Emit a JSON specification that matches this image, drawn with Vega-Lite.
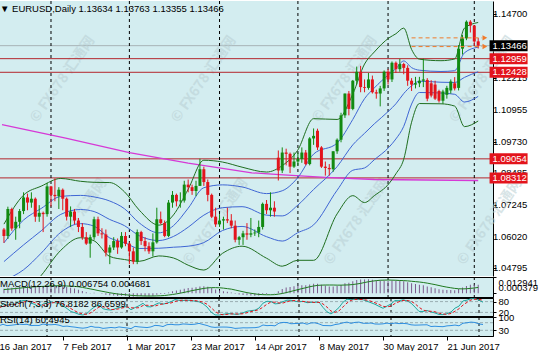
{
"$schema": "https://vega.github.io/schema/vega-lite/v6.json",
"padding": {"left": -4, "top": 0, "right": 0, "bottom": 0},
"background": "#ffffff",
"spacing": 1,
"bounds": "flush",
"config": {
 "view": {"fill": "#d3edf0", "stroke": "#000000", "strokeWidth": 1},
 "font": "Liberation Sans",
 "axis": {"labelFont": "Liberation Sans", "labelFontSize": 9.5, "labelColor": "#000000", "tickColor": "#000000", "domainColor": "#000000", "grid": false, "title": null, "tickSize": 3, "labelPadding": 2, "labelOverlap": false},
 "title": {"font": "Liberation Sans", "fontSize": 9.5, "fontWeight": "normal", "color": "#000000", "anchor": "start", "frame": "group"}
},
"datasets": {
 "bars": [
{"i":0,"o":1.0630,"h":1.0636,"l":1.0578,"c":1.0605,"m":0.0036,"s":0.0030,"k":45,"d":45,"r":54.3},
{"i":1,"o":1.0605,"h":1.0719,"l":1.0593,"c":1.0710,"m":0.0045,"s":0.0032,"k":68.7,"d":55,"r":61.5},
{"i":2,"o":1.0710,"h":1.0715,"l":1.0625,"c":1.0634,"m":0.0045,"s":0.0035,"k":59.8,"d":57.8,"r":54.7},
{"i":3,"o":1.0634,"h":1.0680,"l":1.0590,"c":1.0660,"m":0.0047,"s":0.0038,"k":65.9,"d":64.8,"r":56.5},
{"i":4,"o":1.0660,"h":1.0710,"l":1.0635,"c":1.0702,"m":0.0051,"s":0.0041,"k":62.6,"d":62.8,"r":59.3},
{"i":5,"o":1.0702,"h":1.0775,"l":1.0690,"c":1.0755,"m":0.0058,"s":0.0044,"k":80,"d":69.5,"r":62.5},
{"i":6,"o":1.0755,"h":1.0770,"l":1.0705,"c":1.0735,"m":0.0061,"s":0.0047,"k":85.6,"d":76.1,"r":60.6},
{"i":7,"o":1.0735,"h":1.0775,"l":1.0715,"c":1.0750,"m":0.0064,"s":0.0050,"k":85.3,"d":83.6,"r":61.5},
{"i":8,"o":1.0750,"h":1.0755,"l":1.0660,"c":1.0680,"m":0.0060,"s":0.0052,"k":71.8,"d":80.9,"r":54.8},
{"i":9,"o":1.0680,"h":1.0725,"l":1.0660,"c":1.0695,"m":0.0058,"s":0.0054,"k":64,"d":73.7,"r":55.9},
{"i":10,"o":1.0695,"h":1.0700,"l":1.0620,"c":1.0690,"m":0.0054,"s":0.0055,"k":50.5,"d":62.1,"r":55.4},
{"i":11,"o":1.0690,"h":1.0812,"l":1.0680,"c":1.0798,"m":0.0060,"s":0.0057,"k":66.4,"d":60.3,"r":63},
{"i":12,"o":1.0798,"h":1.0800,"l":1.0720,"c":1.0765,"m":0.0061,"s":0.0059,"k":72.9,"d":63.3,"r":59.6},
{"i":13,"o":1.0765,"h":1.0829,"l":1.0740,"c":1.0760,"m":0.0061,"s":0.0060,"k":78.1,"d":72.5,"r":59.1},
{"i":14,"o":1.0760,"h":1.0795,"l":1.0710,"c":1.0785,"m":0.0062,"s":0.0060,"k":73.8,"d":74.9,"r":60.9},
{"i":15,"o":1.0785,"h":1.0790,"l":1.0705,"c":1.0750,"m":0.0059,"s":0.0060,"k":69.4,"d":73.8,"r":57.1},
{"i":16,"o":1.0750,"h":1.0755,"l":1.0665,"c":1.0680,"m":0.0051,"s":0.0058,"k":56.6,"d":66.6,"r":50.4},
{"i":17,"o":1.0680,"h":1.0720,"l":1.0640,"c":1.0700,"m":0.0045,"s":0.0057,"k":41.2,"d":55.7,"r":52.1},
{"i":18,"o":1.0700,"h":1.0710,"l":1.0650,"c":1.0665,"m":0.0038,"s":0.0055,"k":24.7,"d":40.8,"r":48.9},
{"i":19,"o":1.0665,"h":1.0675,"l":1.0620,"c":1.0640,"m":0.0029,"s":0.0052,"k":17.9,"d":27.9,"r":46.6},
{"i":20,"o":1.0640,"h":1.0655,"l":1.0590,"c":1.0600,"m":0.0019,"s":0.0047,"k":9.1,"d":17.2,"r":43.2},
{"i":21,"o":1.0600,"h":1.0620,"l":1.0570,"c":1.0575,"m":0.0009,"s":0.0041,"k":5.5,"d":10.8,"r":41.2},
{"i":22,"o":1.0575,"h":1.0610,"l":1.0520,"c":1.0600,"m":0.0003,"s":0.0035,"k":14.4,"d":9.7,"r":44},
{"i":23,"o":1.0600,"h":1.0680,"l":1.0590,"c":1.0670,"m":0.0004,"s":0.0029,"k":35.9,"d":18.6,"r":51.1},
{"i":24,"o":1.0670,"h":1.0680,"l":1.0605,"c":1.0615,"m":0.0000,"s":0.0022,"k":52,"d":34.1,"r":46.2},
{"i":25,"o":1.0615,"h":1.0635,"l":1.0595,"c":1.0611,"m":-0.0003,"s":0.0016,"k":61.1,"d":49.7,"r":45.8},
{"i":26,"o":1.0611,"h":1.0630,"l":1.0525,"c":1.0540,"m":-0.0011,"s":0.0010,"k":40.4,"d":51.2,"r":40.1},
{"i":27,"o":1.0540,"h":1.0570,"l":1.0495,"c":1.0560,"m":-0.0016,"s":0.0004,"k":34.9,"d":45.5,"r":42.3},
{"i":28,"o":1.0560,"h":1.0600,"l":1.0550,"c":1.0585,"m":-0.0018,"s":-0.0001,"k":33,"d":36.1,"r":45},
{"i":29,"o":1.0585,"h":1.0595,"l":1.0535,"c":1.0560,"m":-0.0021,"s":-0.0006,"k":39.6,"d":35.8,"r":42.8},
{"i":30,"o":1.0560,"h":1.0620,"l":1.0555,"c":1.0605,"m":-0.0019,"s":-0.0009,"k":47.7,"d":40.1,"r":47.7},
{"i":31,"o":1.0605,"h":1.0620,"l":1.0565,"c":1.0575,"m":-0.0020,"s":-0.0012,"k":50,"d":45.8,"r":44.9},
{"i":32,"o":1.0575,"h":1.0580,"l":1.0495,"c":1.0545,"m":-0.0023,"s":-0.0015,"k":52.2,"d":50,"r":42.3},
{"i":33,"o":1.0545,"h":1.0560,"l":1.0495,"c":1.0505,"m":-0.0028,"s":-0.0018,"k":35,"d":45.7,"r":39},
{"i":34,"o":1.0505,"h":1.0630,"l":1.0495,"c":1.0620,"m":-0.0023,"s":-0.0020,"k":46.8,"d":44.7,"r":50.8},
{"i":35,"o":1.0620,"h":1.0625,"l":1.0570,"c":1.0585,"m":-0.0021,"s":-0.0021,"k":57,"d":46.3,"r":47.8},
{"i":36,"o":1.0585,"h":1.0600,"l":1.0545,"c":1.0565,"m":-0.0021,"s":-0.0022,"k":70.4,"d":58.1,"r":46.1},
{"i":37,"o":1.0565,"h":1.0580,"l":1.0535,"c":1.0545,"m":-0.0023,"s":-0.0022,"k":51.9,"d":59.8,"r":44.4},
{"i":38,"o":1.0545,"h":1.0615,"l":1.0525,"c":1.0580,"m":-0.0021,"s":-0.0022,"k":50.6,"d":57.6,"r":48},
{"i":39,"o":1.0580,"h":1.0715,"l":1.0575,"c":1.0670,"m":-0.0012,"s":-0.0021,"k":63.3,"d":55.3,"r":55.9},
{"i":40,"o":1.0670,"h":1.0700,"l":1.0650,"c":1.0655,"m":-0.0006,"s":-0.0020,"k":73,"d":62.3,"r":54.4},
{"i":41,"o":1.0655,"h":1.0665,"l":1.0600,"c":1.0605,"m":-0.0005,"s":-0.0018,"k":65.9,"d":67.4,"r":49.7},
{"i":42,"o":1.0605,"h":1.0745,"l":1.0600,"c":1.0735,"m":0.0006,"s":-0.0014,"k":71.4,"d":70.1,"r":59.5},
{"i":43,"o":1.0735,"h":1.0780,"l":1.0715,"c":1.0765,"m":0.0017,"s":-0.0010,"k":79.7,"d":72.3,"r":61.4},
{"i":44,"o":1.0765,"h":1.0770,"l":1.0720,"c":1.0740,"m":0.0023,"s":-0.0005,"k":91.1,"d":80.7,"r":59},
{"i":45,"o":1.0740,"h":1.0775,"l":1.0715,"c":1.0743,"m":0.0028,"s":0.0001,"k":87.1,"d":86,"r":59.2},
{"i":46,"o":1.0743,"h":1.0820,"l":1.0735,"c":1.0805,"m":0.0037,"s":0.0007,"k":86.5,"d":88.2,"r":63.4},
{"i":47,"o":1.0805,"h":1.0825,"l":1.0775,"c":1.0795,"m":0.0042,"s":0.0014,"k":87.4,"d":87,"r":62.2},
{"i":48,"o":1.0795,"h":1.0805,"l":1.0765,"c":1.0780,"m":0.0045,"s":0.0021,"k":86.6,"d":86.8,"r":60.5},
{"i":49,"o":1.0780,"h":1.0820,"l":1.0760,"c":1.0800,"m":0.0048,"s":0.0027,"k":82.1,"d":85.4,"r":62.1},
{"i":50,"o":1.0800,"h":1.0906,"l":1.0800,"c":1.0865,"m":0.0055,"s":0.0033,"k":78.9,"d":82.5,"r":66.5},
{"i":51,"o":1.0865,"h":1.0875,"l":1.0800,"c":1.0815,"m":0.0056,"s":0.0039,"k":68.1,"d":76.4,"r":60.6},
{"i":52,"o":1.0815,"h":1.0825,"l":1.0740,"c":1.0765,"m":0.0052,"s":0.0043,"k":50.2,"d":65.7,"r":55.3},
{"i":53,"o":1.0765,"h":1.0770,"l":1.0675,"c":1.0680,"m":0.0042,"s":0.0045,"k":22.1,"d":46.8,"r":47.7},
{"i":54,"o":1.0680,"h":1.0715,"l":1.0640,"c":1.0650,"m":0.0031,"s":0.0045,"k":6,"d":26.1,"r":45.3},
{"i":55,"o":1.0650,"h":1.0690,"l":1.0640,"c":1.0665,"m":0.0023,"s":0.0044,"k":5.2,"d":11.1,"r":46.8},
{"i":56,"o":1.0665,"h":1.0680,"l":1.0630,"c":1.0670,"m":0.0017,"s":0.0041,"k":9.3,"d":6.8,"r":47.2},
{"i":57,"o":1.0670,"h":1.0715,"l":1.0655,"c":1.0665,"m":0.0012,"s":0.0037,"k":12.7,"d":9.1,"r":46.8},
{"i":58,"o":1.0665,"h":1.0690,"l":1.0635,"c":1.0645,"m":0.0006,"s":0.0033,"k":12.6,"d":11.5,"r":44.8},
{"i":59,"o":1.0645,"h":1.0665,"l":1.0580,"c":1.0590,"m":-0.0003,"s":0.0026,"k":9.5,"d":11.6,"r":40},
{"i":60,"o":1.0590,"h":1.0605,"l":1.0570,"c":1.0600,"m":-0.0009,"s":0.0019,"k":10.4,"d":10.8,"r":41.3},
{"i":61,"o":1.0600,"h":1.0625,"l":1.0570,"c":1.0615,"m":-0.0013,"s":0.0012,"k":17.7,"d":12.5,"r":43.1},
{"i":62,"o":1.0615,"h":1.0655,"l":1.0590,"c":1.0610,"m":-0.0016,"s":0.0005,"k":26.4,"d":18.2,"r":42.7},
{"i":63,"o":1.0610,"h":1.0675,"l":1.0600,"c":1.0615,"m":-0.0018,"s":0.0000,"k":29.9,"d":24.7,"r":43.4},
{"i":64,"o":1.0615,"h":1.0630,"l":1.0605,"c":1.0618,"m":-0.0019,"s":-0.0005,"k":32.4,"d":29.6,"r":43.8},
{"i":65,"o":1.0618,"h":1.0665,"l":1.0600,"c":1.0640,"m":-0.0018,"s":-0.0009,"k":44.1,"d":35.5,"r":47.1},
{"i":66,"o":1.0640,"h":1.0735,"l":1.0630,"c":1.0730,"m":-0.0009,"s":-0.0011,"k":71.3,"d":49.3,"r":57.9},
{"i":67,"o":1.0730,"h":1.0745,"l":1.0690,"c":1.0705,"m":-0.0005,"s":-0.0012,"k":82,"d":65.8,"r":54.5},
{"i":68,"o":1.0705,"h":1.0775,"l":1.0680,"c":1.0715,"m":0.0000,"s":-0.0012,"k":80,"d":77.8,"r":55.7},
{"i":69,"o":1.0715,"h":1.0740,"l":1.0680,"c":1.0700,"m":0.0002,"s":-0.0011,"k":67.3,"d":76.4,"r":53.6},
{"i":70,"o":1.0910,"h":1.0938,"l":1.0821,"c":1.0860,"m":0.0017,"s":-0.0007,"k":69.5,"d":72.3,"r":67.6},
{"i":71,"o":1.0860,"h":1.0950,"l":1.0850,"c":1.0930,"m":0.0034,"s":-0.0002,"k":80,"d":72.3,"r":71.6},
{"i":72,"o":1.0930,"h":1.0945,"l":1.0880,"c":1.0925,"m":0.0046,"s":0.0005,"k":87.8,"d":79.1,"r":70.9},
{"i":73,"o":1.0925,"h":1.0930,"l":1.0850,"c":1.0875,"m":0.0051,"s":0.0013,"k":87.2,"d":85,"r":64.4},
{"i":74,"o":1.0875,"h":1.0930,"l":1.0870,"c":1.0895,"m":0.0056,"s":0.0021,"k":82,"d":85.7,"r":65.7},
{"i":75,"o":1.0895,"h":1.0930,"l":1.0880,"c":1.0905,"m":0.0060,"s":0.0029,"k":78.4,"d":82.5,"r":66.4},
{"i":76,"o":1.0905,"h":1.0950,"l":1.0890,"c":1.0930,"m":0.0065,"s":0.0037,"k":82.1,"d":80.8,"r":68.2},
{"i":77,"o":1.0930,"h":1.0940,"l":1.0880,"c":1.0885,"m":0.0064,"s":0.0044,"k":73.9,"d":78.1,"r":61.9},
{"i":78,"o":1.0885,"h":1.0990,"l":1.0880,"c":1.0985,"m":0.0071,"s":0.0052,"k":75.6,"d":77.2,"r":68.8},
{"i":79,"o":1.0985,"h":1.1024,"l":1.0960,"c":1.0995,"m":0.0076,"s":0.0058,"k":76.1,"d":75.2,"r":69.3},
{"i":80,"o":1.1015,"h":1.1023,"l":1.0940,"c":1.0950,"m":0.0076,"s":0.0063,"k":76.9,"d":76.2,"r":63.5},
{"i":81,"o":1.0950,"h":1.0955,"l":1.0870,"c":1.0875,"m":0.0068,"s":0.0065,"k":47.7,"d":66.9,"r":55.2},
{"i":82,"o":1.0875,"h":1.0895,"l":1.0840,"c":1.0870,"m":0.0062,"s":0.0066,"k":23.4,"d":49.3,"r":54.7},
{"i":83,"o":1.0870,"h":1.0885,"l":1.0840,"c":1.0865,"m":0.0055,"s":0.0066,"k":11.5,"d":27.5,"r":54.1},
{"i":84,"o":1.0865,"h":1.0935,"l":1.0855,"c":1.0935,"m":0.0055,"s":0.0066,"k":27.2,"d":20.7,"r":60.1},
{"i":85,"o":1.0935,"h":1.0985,"l":1.0925,"c":1.0980,"m":0.0058,"s":0.0065,"k":47.1,"d":28.6,"r":63.4},
{"i":86,"o":1.0980,"h":1.1085,"l":1.0970,"c":1.1075,"m":0.0067,"s":0.0065,"k":76.7,"d":50.3,"r":69.2},
{"i":87,"o":1.1075,"h":1.1160,"l":1.1065,"c":1.1160,"m":0.0081,"s":0.0066,"k":92.8,"d":72.2,"r":73.3},
{"i":88,"o":1.1160,"h":1.1170,"l":1.1075,"c":1.1100,"m":0.0085,"s":0.0067,"k":91.1,"d":86.9,"r":66.6},
{"i":89,"o":1.1100,"h":1.1213,"l":1.1095,"c":1.1210,"m":0.0097,"s":0.0070,"k":92.9,"d":92.3,"r":71.7},
{"i":90,"o":1.1210,"h":1.1265,"l":1.1195,"c":1.1245,"m":0.0107,"s":0.0074,"k":91.6,"d":91.9,"r":73.1},
{"i":91,"o":1.1245,"h":1.1268,"l":1.1165,"c":1.1185,"m":0.0110,"s":0.0079,"k":90.6,"d":91.7,"r":67},
{"i":92,"o":1.1185,"h":1.1215,"l":1.1165,"c":1.1182,"m":0.0110,"s":0.0086,"k":82,"d":88.1,"r":66.7},
{"i":93,"o":1.1182,"h":1.1240,"l":1.1175,"c":1.1215,"m":0.0112,"s":0.0092,"k":73.7,"d":82.1,"r":68.3},
{"i":94,"o":1.1215,"h":1.1230,"l":1.1160,"c":1.1165,"m":0.0108,"s":0.0097,"k":65.1,"d":73.6,"r":63.1},
{"i":95,"o":1.1165,"h":1.1175,"l":1.1140,"c":1.1160,"m":0.0103,"s":0.0101,"k":53.6,"d":64.1,"r":62.6},
{"i":96,"o":1.1160,"h":1.1190,"l":1.1110,"c":1.1180,"m":0.0100,"s":0.0104,"k":42.9,"d":53.9,"r":63.9},
{"i":97,"o":1.1180,"h":1.1250,"l":1.1170,"c":1.1245,"m":0.0101,"s":0.0105,"k":55.2,"d":50.6,"r":67.7},
{"i":98,"o":1.1245,"h":1.1255,"l":1.1195,"c":1.1215,"m":0.0099,"s":0.0106,"k":67.2,"d":55.1,"r":64.3},
{"i":99,"o":1.1215,"h":1.1285,"l":1.1205,"c":1.1280,"m":0.0101,"s":0.0105,"k":85.8,"d":69.4,"r":68.1},
{"i":100,"o":1.1280,"h":1.1285,"l":1.1240,"c":1.1255,"m":0.0099,"s":0.0104,"k":84.8,"d":79.3,"r":65.2},
{"i":101,"o":1.1255,"h":1.1295,"l":1.1245,"c":1.1275,"m":0.0099,"s":0.0102,"k":89.7,"d":86.8,"r":66.4},
{"i":102,"o":1.1275,"h":1.1280,"l":1.1235,"c":1.1260,"m":0.0096,"s":0.0101,"k":84.4,"d":86.3,"r":64.6},
{"i":103,"o":1.1260,"h":1.1270,"l":1.1190,"c":1.1210,"m":0.0089,"s":0.0099,"k":71.7,"d":81.9,"r":58.9},
{"i":104,"o":1.1210,"h":1.1220,"l":1.1170,"c":1.1195,"m":0.0081,"s":0.0096,"k":49.4,"d":68.5,"r":57.2},
{"i":105,"o":1.1195,"h":1.1225,"l":1.1180,"c":1.1200,"m":0.0074,"s":0.0093,"k":25.3,"d":48.8,"r":57.7},
{"i":106,"o":1.1200,"h":1.1225,"l":1.1185,"c":1.1210,"m":0.0069,"s":0.0090,"k":25.3,"d":33.3,"r":58.6},
{"i":107,"o":1.1210,"h":1.1296,"l":1.1185,"c":1.1215,"m":0.0064,"s":0.0086,"k":30.6,"d":27.1,"r":59},
{"i":108,"o":1.1213,"h":1.1220,"l":1.1130,"c":1.1140,"m":0.0054,"s":0.0081,"k":22.8,"d":26.2,"r":50},
{"i":109,"o":1.1200,"h":1.1212,"l":1.1145,"c":1.1152,"m":0.0049,"s":0.0075,"k":16.8,"d":23.4,"r":51.3},
{"i":110,"o":1.1195,"h":1.1210,"l":1.1135,"c":1.1140,"m":0.0041,"s":0.0069,"k":8.4,"d":16,"r":49.9},
{"i":111,"o":1.1170,"h":1.1175,"l":1.1125,"c":1.1132,"m":0.0033,"s":0.0062,"k":7.8,"d":11,"r":49},
{"i":112,"o":1.1132,"h":1.1175,"l":1.1120,"c":1.1168,"m":0.0029,"s":0.0055,"k":12.7,"d":9.6,"r":53.3},
{"i":113,"o":1.1155,"h":1.1190,"l":1.1140,"c":1.1182,"m":0.0026,"s":0.0049,"k":22.4,"d":14.3,"r":54.8},
{"i":114,"o":1.1172,"h":1.1215,"l":1.1160,"c":1.1207,"m":0.0026,"s":0.0044,"k":43.6,"d":26.2,"r":57.6},
{"i":115,"o":1.1200,"h":1.1224,"l":1.1172,"c":1.1180,"m":0.0024,"s":0.0039,"k":55,"d":40.3,"r":53.7},
{"i":116,"o":1.1182,"h":1.1349,"l":1.1172,"c":1.1335,"m":0.0035,"s":0.0036,"k":83.6,"d":60.7,"r":67.2},
{"i":117,"o":1.1335,"h":1.1388,"l":1.1312,"c":1.1375,"m":0.0046,"s":0.0035,"k":88.2,"d":75.6,"r":69.7},
{"i":118,"o":1.1375,"h":1.1445,"l":1.1368,"c":1.1440,"m":0.0059,"s":0.0036,"k":96.1,"d":89.3,"r":73.2},
{"i":119,"o":1.1440,"h":1.1446,"l":1.1398,"c":1.1425,"m":0.0068,"s":0.0039,"k":95.7,"d":93.3,"r":71.1},
{"i":120,"o":1.1425,"h":1.1426,"l":1.1345,"c":1.1363,"m":0.0069,"s":0.0042,"k":88.1,"d":93.3,"r":63.3},
{"i":121,"o":1.13634,"h":1.13763,"l":1.13355,"c":1.13466,"m":0.006754,"s":0.004681,"k":76.8182,"d":86.6599,"r":60.4945}
 ],
 "bb": [
{"i":0,"u2":1.0651,"u1":1.0578,"mid":1.0505,"l1":1.0432,"l2":1.0359},
{"i":5,"u2":1.0764,"u1":1.0667,"mid":1.0570,"l1":1.0473,"l2":1.0376},
{"i":9.5,"u2":1.0799,"u1":1.0712,"mid":1.0625,"l1":1.0538,"l2":1.0451},
{"i":14.5,"u2":1.0829,"u1":1.0759,"mid":1.0689,"l1":1.0619,"l2":1.0549},
{"i":19.5,"u2":1.0818,"u1":1.0763,"mid":1.0708,"l1":1.0653,"l2":1.0598},
{"i":23,"u2":1.0814,"u1":1.0757,"mid":1.0700,"l1":1.0643,"l2":1.0586},
{"i":27,"u2":1.0813,"u1":1.0741,"mid":1.0669,"l1":1.0597,"l2":1.0525},
{"i":30.75,"u2":1.0777,"u1":1.0711,"mid":1.0645,"l1":1.0579,"l2":1.0513},
{"i":34.5,"u2":1.0706,"u1":1.0656,"mid":1.0606,"l1":1.0556,"l2":1.0506},
{"i":39.5,"u2":1.0647,"u1":1.0617,"mid":1.0587,"l1":1.0557,"l2":1.0527},
{"i":43.25,"u2":1.0687,"u1":1.0645,"mid":1.0603,"l1":1.0561,"l2":1.0519},
{"i":47,"u2":1.0787,"u1":1.0713,"mid":1.0639,"l1":1.0565,"l2":1.0491},
{"i":51,"u2":1.0900,"u1":1.0793,"mid":1.0686,"l1":1.0579,"l2":1.0472},
{"i":55.75,"u2":1.0893,"u1":1.0804,"mid":1.0715,"l1":1.0626,"l2":1.0537},
{"i":60.75,"u2":1.0873,"u1":1.0796,"mid":1.0719,"l1":1.0642,"l2":1.0565},
{"i":67,"u2":1.0854,"u1":1.0770,"mid":1.0686,"l1":1.0602,"l2":1.0518},
{"i":71,"u2":1.0879,"u1":1.0781,"mid":1.0683,"l1":1.0585,"l2":1.0487},
{"i":74.9,"u2":1.0938,"u1":1.0831,"mid":1.0724,"l1":1.0617,"l2":1.0510},
{"i":79,"u2":1.1062,"u1":1.0924,"mid":1.0786,"l1":1.0648,"l2":1.0510},
{"i":85,"u2":1.1059,"u1":1.0967,"mid":1.0875,"l1":1.0783,"l2":1.0691},
{"i":89,"u2":1.1158,"u1":1.1059,"mid":1.0960,"l1":1.0861,"l2":1.0762},
{"i":92,"u2":1.1275,"u1":1.1140,"mid":1.1005,"l1":1.0870,"l2":1.0735},
{"i":94.5,"u2":1.1322,"u1":1.1182,"mid":1.1042,"l1":1.0902,"l2":1.0762},
{"i":98.25,"u2":1.1377,"u1":1.1235,"mid":1.1093,"l1":1.0951,"l2":1.0809},
{"i":100,"u2":1.1393,"u1":1.1257,"mid":1.1120,"l1":1.0983,"l2":1.0847},
{"i":102,"u2":1.1415,"u1":1.1287,"mid":1.1160,"l1":1.1032,"l2":1.0904},
{"i":104,"u2":1.1332,"u1":1.1261,"mid":1.1190,"l1":1.1119,"l2":1.1048},
{"i":106,"u2":1.1294,"u1":1.1251,"mid":1.1208,"l1":1.1164,"l2":1.1121},
{"i":111.5,"u2":1.1288,"u1":1.1246,"mid":1.1204,"l1":1.1162,"l2":1.1120},
{"i":115,"u2":1.1295,"u1":1.1249,"mid":1.1203,"l1":1.1157,"l2":1.1111},
{"i":117.5,"u2":1.1415,"u1":1.1319,"mid":1.1223,"l1":1.1127,"l2":1.1031},
{"i":121,"u2":1.1437,"u1":1.1341,"mid":1.1245,"l1":1.1149,"l2":1.1053}
 ],
 "ma": [
{"i":-0.5,"v":1.1039},{"i":15.75,"v":1.0986},{"i":32,"v":1.0930},{"i":47,"v":1.0889},{"i":63.25,"v":1.0851},{"i":70.25,"v":1.0844},{"i":82,"v":1.0833},{"i":94.5,"v":1.0825},{"i":121,"v":1.0821}
 ],
 "wm": [
{"i":15,"p":1.1215},{"i":51,"p":1.1215},{"i":87,"p":1.1215},{"i":122,"p":1.1215},
{"i":18,"p":1.0660},{"i":54,"p":1.0660},{"i":90,"p":1.0660},{"i":124,"p":1.0660}
 ],
 "yticks": [{"v":1.147},{"v":1.1346},{"v":1.12215},{"v":1.10955},{"v":1.0973},{"v":1.08485},{"v":1.07245},{"v":1.0602},{"v":1.04795}],
 "levels": [{"p":1.12959},{"p":1.12428},{"p":1.09054},{"p":1.08312}],
 "bid": [{"p":1.13466}],
 "orange": [{"p":1.1377},{"p":1.1343}],
 "months": [{"i":12},{"i":32},{"i":55},{"i":75},{"i":98},{"i":120}],
 "stochlv": [{"v":20},{"v":80}],
 "rsilv": [{"v":30},{"v":70}]
},
"vconcat": [
{
 "width": 496, "height": 275,
 "view": {"stroke": null},
 "title": {"text": "▼ EURUSD,Daily  1.13634 1.13763 1.13355 1.13466", "offset": -13, "dx": 3},
 "layer": [
  {"data": {"name": "yticks"}, "mark": {"type": "text", "align": "left", "baseline": "middle", "color": "#000000", "fontSize": 9.5, "dx": 5},
   "encoding": {"x": {"datum": 123.5, "type": "quantitative", "scale": {"domain": [-0.5, 123.5], "nice": false, "zero": false}, "axis": null},
     "text": {"field": "v", "type": "quantitative", "format": ".5f"},
     "y": {"field": "v", "type": "quantitative", "scale": {"domain": [1.04683, 1.15012], "nice": false, "zero": false},
     "axis": {"orient": "right", "title": null, "labels": false, "values": [1.147, 1.1346, 1.12215, 1.10955, 1.0973, 1.08485, 1.07245, 1.0602, 1.04795]}}}},
  {"data": {"name": "bid"}, "mark": {"type": "rule", "color": "#a8b4b6", "strokeWidth": 1},
   "encoding": {"y": {"field": "p", "type": "quantitative", "scale": {"domain": [1.04683, 1.15012], "nice": false, "zero": false}}}},
  {"data": {"name": "wm"}, "mark": {"type": "text", "text": "© FX678 汇通网", "angle": -55, "font": "Noto Sans CJK SC", "fontSize": 14, "fontWeight": "bold", "color": "#b9cfd3", "opacity": 0.55},
   "encoding": {"x": {"field": "i", "type": "quantitative", "scale": {"domain": [-0.5, 123.5], "nice": false, "zero": false}, "axis": null},
     "y": {"field": "p", "type": "quantitative", "scale": {"domain": [1.04683, 1.15012], "nice": false, "zero": false}}}},
  {"data": {"name": "levels"}, "mark": {"type": "rule", "color": "#b3262c", "strokeWidth": 1},
   "encoding": {"y": {"field": "p", "type": "quantitative", "scale": {"domain": [1.04683, 1.15012], "nice": false, "zero": false}}}},
  {"data": {"name": "months"}, "mark": {"type": "rule", "color": "#000000", "strokeWidth": 1, "strokeDash": [3, 3]},
   "encoding": {"x": {"field": "i", "type": "quantitative", "scale": {"domain": [-0.5, 123.5], "nice": false, "zero": false}, "axis": null}}},
  {"data": {"name": "ma"}, "mark": {"type": "line", "color": "#d639d6", "strokeWidth": 1.3, "clip": true},
   "encoding": {"x": {"field": "i", "type": "quantitative", "scale": {"domain": [-0.5, 123.5], "nice": false, "zero": false}, "axis": null},
     "y": {"field": "v", "type": "quantitative", "scale": {"domain": [1.04683, 1.15012], "nice": false, "zero": false}}}},
  {"data": {"name": "bb"}, "mark": {"type": "line", "color": "#1f6e1f", "strokeWidth": 1, "interpolate": "monotone", "clip": true},
   "encoding": {"x": {"field": "i", "type": "quantitative", "scale": {"domain": [-0.5, 123.5], "nice": false, "zero": false}, "axis": null},
     "y": {"field": "u2", "type": "quantitative", "scale": {"domain": [1.04683, 1.15012], "nice": false, "zero": false}}}},
  {"data": {"name": "bb"}, "mark": {"type": "line", "color": "#1f6e1f", "strokeWidth": 1, "interpolate": "monotone", "clip": true},
   "encoding": {"x": {"field": "i", "type": "quantitative", "scale": {"domain": [-0.5, 123.5], "nice": false, "zero": false}, "axis": null},
     "y": {"field": "l2", "type": "quantitative", "scale": {"domain": [1.04683, 1.15012], "nice": false, "zero": false}}}},
  {"data": {"name": "bb"}, "mark": {"type": "line", "color": "#3f66d4", "strokeWidth": 1, "interpolate": "monotone", "clip": true},
   "encoding": {"x": {"field": "i", "type": "quantitative", "scale": {"domain": [-0.5, 123.5], "nice": false, "zero": false}, "axis": null},
     "y": {"field": "u1", "type": "quantitative", "scale": {"domain": [1.04683, 1.15012], "nice": false, "zero": false}}}},
  {"data": {"name": "bb"}, "mark": {"type": "line", "color": "#3f66d4", "strokeWidth": 1, "interpolate": "monotone", "clip": true},
   "encoding": {"x": {"field": "i", "type": "quantitative", "scale": {"domain": [-0.5, 123.5], "nice": false, "zero": false}, "axis": null},
     "y": {"field": "mid", "type": "quantitative", "scale": {"domain": [1.04683, 1.15012], "nice": false, "zero": false}}}},
  {"data": {"name": "bb"}, "mark": {"type": "line", "color": "#3f66d4", "strokeWidth": 1, "interpolate": "monotone", "clip": true},
   "encoding": {"x": {"field": "i", "type": "quantitative", "scale": {"domain": [-0.5, 123.5], "nice": false, "zero": false}, "axis": null},
     "y": {"field": "l1", "type": "quantitative", "scale": {"domain": [1.04683, 1.15012], "nice": false, "zero": false}}}},
  {"data": {"name": "bars"}, "mark": {"type": "rule", "strokeWidth": 1},
   "encoding": {"x": {"field": "i", "type": "quantitative", "scale": {"domain": [-0.5, 123.5], "nice": false, "zero": false}, "axis": null},
     "y": {"field": "l", "type": "quantitative", "scale": {"domain": [1.04683, 1.15012], "nice": false, "zero": false}},
     "y2": {"field": "h"},
     "color": {"condition": {"test": "datum.c >= datum.o", "value": "#118a11"}, "value": "#e3141c"}}},
  {"data": {"name": "bars"}, "mark": {"type": "bar", "size": 3},
   "encoding": {"x": {"field": "i", "type": "quantitative", "scale": {"domain": [-0.5, 123.5], "nice": false, "zero": false}, "axis": null},
     "y": {"field": "o", "type": "quantitative", "scale": {"domain": [1.04683, 1.15012], "nice": false, "zero": false}},
     "y2": {"field": "c"},
     "color": {"condition": {"test": "datum.c >= datum.o", "value": "#118a11"}, "value": "#e3141c"}}},
  {"data": {"name": "orange"}, "mark": {"type": "rule", "color": "#f07a2a", "strokeWidth": 1, "strokeDash": [4, 3]},
   "encoding": {"x": {"datum": 104, "type": "quantitative", "scale": {"domain": [-0.5, 123.5], "nice": false, "zero": false}, "axis": null},
     "x2": {"datum": 122},
     "y": {"field": "p", "type": "quantitative", "scale": {"domain": [1.04683, 1.15012], "nice": false, "zero": false}}}},
  {"data": {"name": "orange"}, "mark": {"type": "point", "shape": "triangle-right", "filled": true, "size": 30, "color": "#f07a2a", "opacity": 1},
   "encoding": {"x": {"datum": 122.7, "type": "quantitative", "scale": {"domain": [-0.5, 123.5], "nice": false, "zero": false}, "axis": null},
     "y": {"field": "p", "type": "quantitative", "scale": {"domain": [1.04683, 1.15012], "nice": false, "zero": false}}}},
  {"data": {"name": "levels"}, "mark": {"type": "bar", "size": 11, "color": "#e3141c", "orient": "horizontal"},
   "encoding": {"x": {"datum": 123.9, "type": "quantitative", "scale": {"domain": [-0.5, 123.5], "nice": false, "zero": false}, "axis": null},
     "x2": {"datum": 133.6},
     "y": {"field": "p", "type": "quantitative", "scale": {"domain": [1.04683, 1.15012], "nice": false, "zero": false}}}},
  {"data": {"name": "bid"}, "mark": {"type": "bar", "size": 11, "color": "#000000", "orient": "horizontal"},
   "encoding": {"x": {"datum": 123.9, "type": "quantitative", "scale": {"domain": [-0.5, 123.5], "nice": false, "zero": false}, "axis": null},
     "x2": {"datum": 133.6},
     "y": {"field": "p", "type": "quantitative", "scale": {"domain": [1.04683, 1.15012], "nice": false, "zero": false}}}},
  {"data": {"name": "levels"}, "mark": {"type": "text", "align": "left", "baseline": "middle", "color": "#ffffff", "fontSize": 9.5, "dx": 3},
   "encoding": {"x": {"datum": 123.9, "type": "quantitative", "scale": {"domain": [-0.5, 123.5], "nice": false, "zero": false}, "axis": null},
     "text": {"field": "p", "type": "quantitative", "format": ".5f"},
     "y": {"field": "p", "type": "quantitative", "scale": {"domain": [1.04683, 1.15012], "nice": false, "zero": false}}}},
  {"data": {"name": "bid"}, "mark": {"type": "text", "align": "left", "baseline": "middle", "color": "#ffffff", "fontSize": 9.5, "dx": 3},
   "encoding": {"x": {"datum": 123.9, "type": "quantitative", "scale": {"domain": [-0.5, 123.5], "nice": false, "zero": false}, "axis": null},
     "text": {"field": "p", "type": "quantitative", "format": ".5f"},
     "y": {"field": "p", "type": "quantitative", "scale": {"domain": [1.04683, 1.15012], "nice": false, "zero": false}}}}
 ]
},
{
 "width": 496, "height": 20,
 "title": {"text": "MACD(12,26,9) 0.006754 0.004681", "offset": -12, "dx": 3},
 "layer": [
  {"data": {"name": "months"}, "mark": {"type": "rule", "color": "#000000", "strokeWidth": 1, "strokeDash": [3, 3]},
   "encoding": {"x": {"field": "i", "type": "quantitative", "scale": {"domain": [-0.5, 123.5], "nice": false, "zero": false}, "axis": null}}},
  {"data": {"name": "bars"}, "mark": {"type": "bar", "color": "#7b5a8c", "size": 1},
   "encoding": {"x": {"field": "i", "type": "quantitative", "scale": {"domain": [-0.5, 123.5], "nice": false, "zero": false}, "axis": null},
     "y": {"field": "m", "type": "quantitative", "scale": {"domain": [-0.0030, 0.0130], "nice": false, "zero": false},
      "axis": {"orient": "right", "title": null, "labelOverlap": false, "values": [0.012941, 0.000379], "format": ".6f",
        "labelBaseline": {"condition": {"test": "datum.value > 0.01", "value": "top"}, "value": "bottom"}}}}},
  {"data": {"name": "bars"}, "mark": {"type": "line", "color": "#1f7a1f", "strokeWidth": 1},
   "encoding": {"x": {"field": "i", "type": "quantitative", "scale": {"domain": [-0.5, 123.5], "nice": false, "zero": false}, "axis": null},
     "y": {"field": "s", "type": "quantitative", "scale": {"domain": [-0.0030, 0.0130], "nice": false, "zero": false}}}}
 ]
},
{
 "width": 496, "height": 18,
 "title": {"text": "Stoch(7,3,3) 76.8182 86.6599", "offset": -12, "dx": 3},
 "layer": [
  {"data": {"name": "months"}, "mark": {"type": "rule", "color": "#000000", "strokeWidth": 1, "strokeDash": [3, 3]},
   "encoding": {"x": {"field": "i", "type": "quantitative", "scale": {"domain": [-0.5, 123.5], "nice": false, "zero": false}, "axis": null}}},
  {"data": {"name": "stochlv"}, "mark": {"type": "rule", "color": "#9aaeb2", "strokeWidth": 1, "strokeDash": [3, 2]},
   "encoding": {"y": {"field": "v", "type": "quantitative", "scale": {"domain": [0, 100], "nice": false},
     "axis": {"orient": "right", "title": null, "labelOverlap": false, "values": [80, 20]}}}},
  {"data": {"name": "bars"}, "mark": {"type": "line", "color": "#20a8a0", "strokeWidth": 1},
   "encoding": {"x": {"field": "i", "type": "quantitative", "scale": {"domain": [-0.5, 123.5], "nice": false, "zero": false}, "axis": null},
     "y": {"field": "k", "type": "quantitative", "scale": {"domain": [0, 100], "nice": false}}}},
  {"data": {"name": "bars"}, "mark": {"type": "line", "color": "#e3141c", "strokeWidth": 1, "strokeDash": [3, 2]},
   "encoding": {"x": {"field": "i", "type": "quantitative", "scale": {"domain": [-0.5, 123.5], "nice": false, "zero": false}, "axis": null},
     "y": {"field": "d", "type": "quantitative", "scale": {"domain": [0, 100], "nice": false}}}}
 ]
},
{
 "width": 496, "height": 19,
 "title": {"text": "RSI(14) 60.4945", "offset": -12, "dx": 3},
 "layer": [
  {"data": {"name": "months"}, "mark": {"type": "rule", "color": "#000000", "strokeWidth": 1, "strokeDash": [3, 3]},
   "encoding": {"x": {"field": "i", "type": "quantitative", "scale": {"domain": [-0.5, 123.5], "nice": false, "zero": false},
     "axis": {"orient": "bottom", "title": null, "values": [0, 16, 32, 48, 64, 80, 96, 112], "labelAlign": "left", "labelFlush": false, "tickSize": 4, "labelPadding": 1, "domain": false,
       "labelExpr": "['16 Jan 2017','7 Feb 2017','1 Mar 2017','23 Mar 2017','14 Apr 2017','8 May 2017','30 May 2017','21 Jun 2017'][round(datum.value/16)]"}}}},
  {"data": {"name": "rsilv"}, "mark": {"type": "rule", "color": "#9aaeb2", "strokeWidth": 1, "strokeDash": [3, 2]},
   "encoding": {"y": {"field": "v", "type": "quantitative", "scale": {"domain": [0, 100], "nice": false},
     "axis": {"orient": "right", "title": null, "labelOverlap": false, "values": [100, 70, 30]}}}},
  {"data": {"name": "bars"}, "mark": {"type": "line", "color": "#2f8fe0", "strokeWidth": 1},
   "encoding": {"x": {"field": "i", "type": "quantitative", "scale": {"domain": [-0.5, 123.5], "nice": false, "zero": false}},
     "y": {"field": "r", "type": "quantitative", "scale": {"domain": [0, 100], "nice": false}}}}
 ]
}
]
}
